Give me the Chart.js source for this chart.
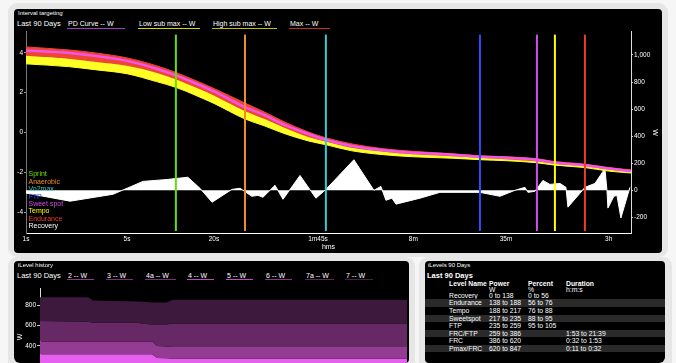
<!DOCTYPE html>
<html>
<head>
<meta charset="utf-8">
<script src="https://cdn.jsdelivr.net/npm/chart.js@4.4.1/dist/chart.umd.min.js"></script>
<style>
  html, body { margin: 0; padding: 0; }
  body { width: 676px; height: 363px; overflow: hidden; position: relative; background: #f6f6f6;
         font-family: "Liberation Sans", Arial, sans-serif; color: #fff; }
  .card { position: absolute; background: #e6e6e6; border-radius: 9px; }
  .panel { position: absolute; background: #000; border-radius: 4px; overflow: hidden; }
  .t { position: absolute; white-space: nowrap; line-height: 1; }
  .small { font-size: 6px; }
  .head { font-size: 7.5px; }
  .leg { font-size: 7px; }
  .uline { position: absolute; height: 1.5px; }
  canvas { position: absolute; }
  #zoneLegend { position: absolute; left: 14.5px; top: 161.3px; font-size: 7px; line-height: 7.43px; }
  .row { position: absolute; left: 0; width: 240px; height: 7.57px; line-height: 7.57px; font-size: 6.8px; }
  .row span { position: absolute; white-space: nowrap; }
  .row.alt { background: #2a2a2a; }
</style>
</head>
<body>

<div class="card" style="left:8px;top:3px;width:660px;height:254px"></div>
<div class="card" style="left:8px;top:257px;width:407px;height:120px"></div>
<div class="card" style="left:419px;top:257px;width:253px;height:120px"></div>

<div class="panel" id="topPanel" style="left:14px;top:9px;width:648px;height:244px">
  <div class="t small" style="left:4px;top:1px">Interval targeting</div>
  <div class="t head" style="left:3px;top:11px">Last 90 Days</div>
  <div id="topLegend"></div>
  <canvas id="intervalChart" width="648" height="226" style="left:0;top:18px"></canvas>
  <div id="zoneLegend"></div>
</div>

<div class="panel" id="histPanel" style="left:14px;top:261px;width:395px;height:102px;border-radius:4px 4px 4px 6px">
  <div class="t small" style="left:4px;top:1px">iLevel history</div>
  <div class="t head" style="left:3px;top:11px">Last 90 Days</div>
  <div id="histLegend"></div>
  <canvas id="historyChart" width="394" height="123" style="left:0;top:22px"></canvas>
</div>

<div class="panel" id="tablePanel" style="left:425px;top:261px;width:240px;height:102px;border-radius:4px 4px 6px 4px">
  <div class="t small" style="left:3px;top:1px">iLevels 90 Days</div>
  <div class="t head" style="left:2px;top:11px;font-weight:bold">Last 90 Days</div>
  <div id="levelTable"></div>
</div>

<script>
// Interval targeting (power duration, W)
const durations = [1, 2, 3, 5, 8, 11, 15, 20, 33, 45, 60, 90, 120, 180, 300, 480, 900, 1400, 2100, 3400, 4600, 7400, 10800, 15400];
const maxW      = [1059, 1036, 1015, 978, 920, 869, 810, 752, 643, 577, 511, 431, 387, 343, 307, 288, 270, 255, 248, 234, 212, 193, 168, 150];
const pdCurveW  = [1033, 1015, 993, 956, 898, 847, 789, 730, 613, 555, 489, 416, 372, 328, 296, 277, 263, 248, 241, 226, 204, 186, 161, 142];
const highSubW  = [993, 971, 949, 920, 869, 818, 759, 701, 584, 526, 467, 394, 358, 314, 285, 266, 252, 241, 230, 215, 197, 179, 153, 135];
const lowSubW   = [934, 913, 891, 861, 803, 759, 701, 642, 526, 475, 423, 365, 336, 292, 263, 248, 237, 226, 219, 204, 186, 168, 142, 128];

// difference curve (white area)
const deltaDur = [1, 2.02, 4.0, 5.0, 6.45, 9.46, 13.2, 16.0, 19.4, 26.6, 30.3, 36.6, 40.3, 43.7, 52.9, 60.1, 78.8, 101.6, 119,
                  186, 256, 286, 310, 341, 364, 533, 733, 1387, 1906, 2421, 2840, 2980, 3330, 3783, 4228, 4963, 5460, 5636,
                  6822, 7390, 8670, 10160, 10500, 10660, 11720, 12300, 13110, 15140];
const deltaW   = [-20, -80, -29, 15, 66, 80, 97, 15, -88, 7, 15, -44, -37, -51, 37, -66, 110, -58, 7,
                  226, 0, 29, -73, -58, -102, -58, -15, -15, -44, 0, 22, -15, -7, 73, 44, 51, 22, -124,
                  -22, 22, 51, 161, 0, -131, -44, -37, -204, 22];

const zoneNames = ['Sprint', 'Anaerobic', 'Vo2max', 'FTP', 'Sweet spot', 'Tempo', 'Endurance', 'Recovery'];
const zoneDur   = [10.9, 32.8, 119, 1387, 3438, 4580, 7390];
const zoneSpanW = [-300, 1150];

const xTickDur    = [1, 5, 20, 105, 480, 2100, 10800];
const xTickLabels = ['1s', '5s', '20s', '1m45s', '8m', '35m', '3h'];
const leftTicks   = [-4, -2, 0, 2, 4];
const rightTicks  = [-200, 0, 200, 400, 600, 800, 1000];

const topLegendNames = ['PD Curve -- W', 'Low sub max -- W', 'High sub max -- W', 'Max -- W'];

// iLevel history
const historyDays = [0, 11.8, 13, 23.8, 25.3, 27.5, 28.7, 31.1, 32.6, 90];
const level7  = [884, 884, 851, 840, 838, 830, 830, 830, 858, 858];
const level7a = [647, 640, 629, 629, 619, 613, 613, 613, 623, 623];
const level6  = [443, 443, 443, 443, 443, 443, 399, 392, 389, 389];
const level5  = [317, 317, 317, 317, 317, 317, 279, 275, 272, 272];
const historyTicks = [0, 200, 400, 600, 800];
const historyLegendNames = ['2 -- W', '3 -- W', '4a -- W', '4 -- W', '5 -- W', '6 -- W', '7a -- W', '7 -- W'];

// iLevels table
const levelNames    = ['Recovery', 'Endurance', 'Tempo', 'Sweetspot', 'FTP', 'FRC/FTP', 'FRC', 'Pmax/FRC'];
const levelPower    = ['0 to 138', '138 to 188', '188 to 217', '217 to 235', '235 to 259', '259 to 386', '386 to 620', '620 to 847'];
const levelPercent  = ['0 to 56', '56 to 76', '76 to 88', '88 to 95', '95 to 105', '', '', ''];
const levelDuration = ['', '', '', '', '', '1:53 to 21:39', '0:32 to 1:53', '0:11 to 0:32'];

// ---- html bits
function addLegend(parentId, names, lefts, widths, colors, top, lineTop) {
    const box = document.getElementById(parentId);
    names.forEach((n, i) => {
        const t = document.createElement('div');
        t.className = 't leg';
        t.style.left = (lefts[i] + 1) + 'px';
        t.style.top = top + 'px';
        t.textContent = n;
        box.appendChild(t);
        const u = document.createElement('div');
        u.className = 'uline';
        u.style.left = lefts[i] + 'px';
        u.style.top = lineTop + 'px';
        u.style.width = widths[i] + 'px';
        u.style.background = colors[i];
        box.appendChild(u);
    });
}
addLegend('topLegend', topLegendNames, [53, 124, 198, 275], [58, 62, 65, 41],
          ['#a23cc8', '#d8d800', '#c4c000', '#c0301c'], 11.3, 18.5);
addLegend('histLegend', historyLegendNames, [53, 92, 131, 173, 212, 251, 291, 331], [27, 27, 31, 27, 27, 27, 29, 28],
          ['#8e3a8e', '#7a2f7a', '#7a2f7a', '#c04cc4', '#c04cc4', '#8a358a', '#5e265e', '#4a1f4a'], 11.3, 17.5);

const zoneColors = ['#66e000', '#f28c28', '#3cc8cc', '#2a4cff', '#d050e8', '#ffff00', '#f03c28', '#ffffff'];
const zl = document.getElementById('zoneLegend');
zoneNames.forEach((n, i) => {
    const d = document.createElement('div');
    d.textContent = n;
    d.style.color = zoneColors[i];
    zl.appendChild(d);
});

const tbl = document.getElementById('levelTable');
function addRow(center, cells, cls, bold) {
    const r = document.createElement('div');
    r.className = 'row' + (cls ? ' ' + cls : '');
    r.style.top = (center - 3.8) + 'px';
    [24, 64, 103, 141].forEach((x, i) => {
        const s = document.createElement('span');
        s.style.left = x + 'px';
        if (bold) s.style.fontWeight = 'bold';
        s.textContent = cells[i];
        r.appendChild(s);
    });
    tbl.appendChild(r);
}
addRow(22.3, ['Level Name', 'Power', 'Percent', 'Duration'], '', true);
addRow(28.3, ['', 'W', '%', 'h:m:s'], '', false);
levelNames.forEach((n, i) => {
    addRow(34.7 + i * 7.57, [n, levelPower[i], levelPercent[i], levelDuration[i]], i % 2 ? 'alt' : '', false);
});

// ---- charts
Chart.defaults.font.family = '"Liberation Sans", Arial, sans-serif';
Chart.defaults.color = '#fff';
Chart.defaults.animation = false;

const fixTicks = vals => scale => { scale.ticks = vals.map(v => ({ value: v })); };
const pts = (xs, ys) => xs.map((x, i) => ({ x: x, y: ys[i] }));

const zoneSets = zoneDur.map((d, i) => ({
    label: zoneNames[i],
    data: zoneSpanW.map(w => ({ x: d, y: w })),
    borderColor: zoneColors[i],
    borderWidth: 2,
    yAxisID: 'y1',
    fill: false
}));

new Chart(document.getElementById('intervalChart'), {
    type: 'line',
    data: {
        datasets: zoneSets.concat([
            { label: 'PD Curve', data: pts(durations, pdCurveW), borderColor: '#f255ee', borderWidth: 2.5,
              cubicInterpolationMode: 'monotone', yAxisID: 'y1', fill: false },
            { label: 'Max', data: pts(durations, maxW), borderColor: '#f04434', backgroundColor: '#f04434', borderWidth: 1,
              cubicInterpolationMode: 'monotone', yAxisID: 'y1', fill: '+1' },
            { label: 'High sub max', data: pts(durations, highSubW), borderColor: '#ffff26', backgroundColor: '#ffff26', borderWidth: 1,
              cubicInterpolationMode: 'monotone', yAxisID: 'y1', fill: '+1' },
            { label: 'Low sub max', data: pts(durations, lowSubW), borderColor: '#ffff26', borderWidth: 1,
              cubicInterpolationMode: 'monotone', yAxisID: 'y1', fill: false },
            { label: 'Delta', data: pts(deltaDur, deltaW), borderColor: '#fff', backgroundColor: '#fff', borderWidth: 1,
              tension: 0, yAxisID: 'y1', fill: { value: 0 } }
        ])
    },
    options: {
        responsive: false,
        devicePixelRatio: 1,
        layout: { padding: { top: 4, left: 0, right: 0, bottom: 0 } },
        plugins: { legend: { display: false }, tooltip: { enabled: false } },
        elements: { point: { radius: 0 } },
        scales: {
            x: {
                type: 'logarithmic', min: 1, max: 15400,
                afterBuildTicks: fixTicks(xTickDur),
                afterFit: s => { s.height = 20; },
                ticks: { autoSkip: false, maxRotation: 0, padding: 2, font: { size: 6.5 }, color: '#fff',
                         callback: (v, i) => xTickLabels[i] },
                grid: { display: false, drawTicks: false },
                border: { color: '#fff', width: 1 },
                title: { display: true, text: 'hms', font: { size: 7 }, color: '#fff', padding: { top: 0, bottom: 2 } }
            },
            y: {
                position: 'left', min: -5.05, max: 5.05,
                afterBuildTicks: fixTicks(leftTicks),
                afterFit: s => { s.width = 12; },
                ticks: { padding: 1, font: { size: 6.5 }, color: '#fff' },
                grid: { drawOnChartArea: false, tickLength: 2, color: '#999' },
                border: { color: '#777', width: 1 }
            },
            y1: {
                position: 'right', min: -315, max: 1170,
                afterBuildTicks: fixTicks(rightTicks),
                afterFit: s => { s.width = 31; },
                ticks: { padding: 1, font: { size: 6.5 }, color: '#fff', callback: v => v.toLocaleString('en-US') },
                grid: { drawOnChartArea: false, tickLength: 2, color: '#ccc' },
                border: { color: '#ddd', width: 1 },
                title: { display: true, text: 'W', font: { size: 7 }, color: '#fff', padding: { top: 3, bottom: 0 } }
            }
        }
    }
});

new Chart(document.getElementById('historyChart'), {
    type: 'line',
    data: {
        datasets: [
            { label: '7', data: pts(historyDays, level7), backgroundColor: '#3e193e', borderWidth: 0, fill: '+1' },
            { label: '7a', data: pts(historyDays, level7a), backgroundColor: '#662966', borderWidth: 0, fill: '+1' },
            { label: '6', data: pts(historyDays, level6), backgroundColor: '#943b94', borderWidth: 0, fill: '+1' },
            { label: '5', data: pts(historyDays, level5), backgroundColor: '#e65fee', borderWidth: 0, fill: 'origin' }
        ]
    },
    options: {
        responsive: false,
        devicePixelRatio: 1,
        layout: { padding: { top: 5, left: 0, right: 1, bottom: 20 } },
        plugins: { legend: { display: false }, tooltip: { enabled: false } },
        elements: { point: { radius: 0 }, line: { tension: 0 } },
        scales: {
            x: { type: 'linear', min: 0, max: 90, display: false },
            y: {
                min: 0, max: 975,
                afterBuildTicks: fixTicks(historyTicks),
                afterFit: s => { s.width = 26; },
                ticks: { padding: 1, font: { size: 6.5 }, color: '#fff' },
                grid: { drawOnChartArea: false, tickLength: 3, color: '#ccc' },
                border: { color: '#ddd', width: 1 },
                title: { display: true, text: 'W', font: { size: 7 }, color: '#fff', padding: { top: 2, bottom: 0 } }
            }
        }
    }
});
</script>
</body>
</html>
